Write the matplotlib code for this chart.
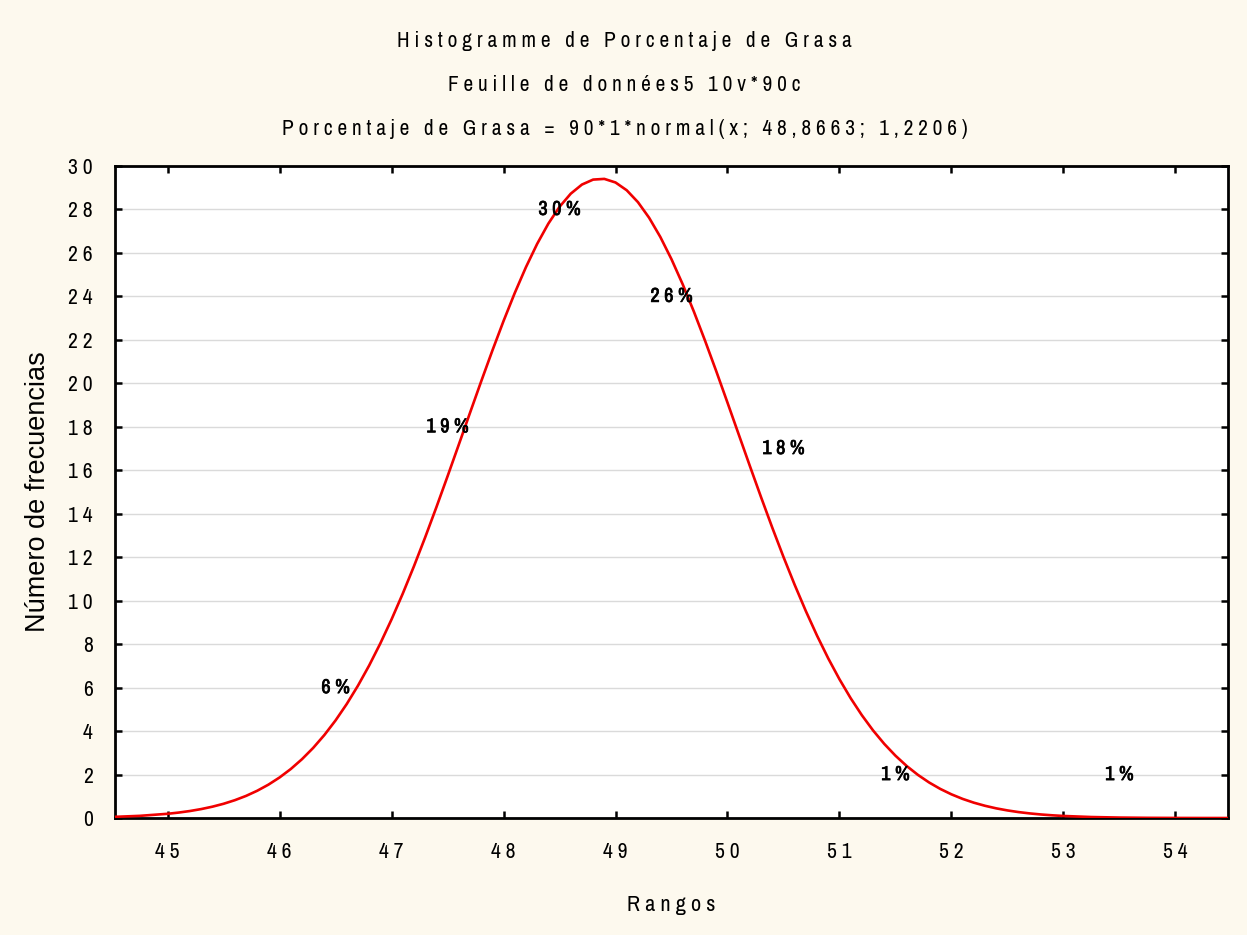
import matplotlib
matplotlib.use('Agg')
import matplotlib.pyplot as plt
import matplotlib.patheffects as pe

# histogram bins (bars are not drawn, only the % labels)
bin_centers = [46.5, 47.5, 48.5, 49.5, 50.5, 51.5, 53.5]
bin_counts = [5, 17, 27, 23, 16, 1, 1]
bin_labels = ['6 %', '1 9 %', '3 0 %', '2 6 %', '1 8 %', '1 %', '1 %']

# fitted normal curve
curve_x = [44.5, 44.75,
           45.0, 45.1, 45.2, 45.3, 45.4, 45.5, 45.6, 45.7, 45.8, 45.9,
           46.0, 46.1, 46.2, 46.3, 46.4, 46.5, 46.6, 46.7, 46.8, 46.9,
           47.0, 47.1, 47.2, 47.3, 47.4, 47.5, 47.6, 47.7, 47.8, 47.9,
           48.0, 48.1, 48.2, 48.3, 48.4, 48.5, 48.6, 48.7, 48.8, 48.9,
           49.0, 49.1, 49.2, 49.3, 49.4, 49.5, 49.6, 49.7, 49.8, 49.9,
           50.0, 50.1, 50.2, 50.3, 50.4, 50.5, 50.6, 50.7, 50.8, 50.9,
           51.0, 51.1, 51.2, 51.3, 51.4, 51.5, 51.6, 51.7, 51.8, 51.9,
           52.0, 52.1, 52.2, 52.3, 52.4, 52.5, 52.6, 52.7, 52.8, 52.9,
           53.0, 53.25, 53.5, 53.75, 54.0, 54.25, 54.5]
curve_y = [0.049, 0.100,
           0.195, 0.252, 0.323, 0.412, 0.522, 0.656, 0.820, 1.017, 1.254, 1.535,
           1.867, 2.255, 2.707, 3.226, 3.820, 4.492, 5.248, 6.090, 7.019, 8.037,
           9.140, 10.325, 11.585, 12.913, 14.296, 15.722, 17.174, 18.635, 20.085, 21.503,
           22.867, 24.154, 25.344, 26.414, 27.346, 28.121, 28.724, 29.144, 29.373, 29.405,
           29.240, 28.882, 28.337, 27.617, 26.735, 25.707, 24.554, 23.296, 21.954, 20.552,
           19.110, 17.650, 16.193, 14.757, 13.358, 12.011, 10.728, 9.517, 8.387, 7.341,
           6.384, 5.513, 4.730, 4.030, 3.411, 2.868, 2.395, 1.987, 1.637, 1.340,
           1.090, 0.880, 0.706, 0.563, 0.445, 0.350, 0.273, 0.212, 0.163, 0.125,
           0.095, 0.046, 0.021, 0.009, 0.004, 0.0015, 0.0006]

x_ticks = [45, 46, 47, 48, 49, 50, 51, 52, 53, 54]
y_ticks = list(range(0, 31, 2))

title_lines = ['Histogramme de Porcentaje de Grasa',
               'Feuille de données5 10v*90c',
               'Porcentaje de Grasa = 90*1*normal(x; 48,8663; 1,2206)']


def spaced(s):
    # wide letter spacing as in the original
    return ' '.join(s)


narrow = ['Archivo Narrow', 'Liberation Sans']

bg = '#fdf9ee'
fig = plt.figure(figsize=(12.47, 9.35), dpi=100)
fig.patch.set_facecolor(bg)
ax = fig.add_axes([0.0922, 0.1251, 0.8926, 0.6974])
ax.set_facecolor('white')

ax.plot(curve_x, curve_y, color='#f00000', lw=1.9, zorder=3)

bold = [pe.withStroke(linewidth=0.5, foreground='black')]
for xc, c, lab in zip(bin_centers, bin_counts, bin_labels):
    ax.text(xc, c + 1, lab, ha='center', va='center', fontsize=14.5,
            family=narrow, zorder=4, path_effects=bold)

ax.set_xlim(44.53, 54.47)
ax.set_ylim(0, 30)
ax.set_xticks(x_ticks)
ax.set_yticks(y_ticks)
ax.set_xticklabels([spaced(str(t)) for t in x_ticks], family=narrow, fontsize=15.5)
ax.set_yticklabels([spaced(str(t)) for t in y_ticks], family=narrow, fontsize=15.5)
ax.tick_params(direction='in', length=5, width=1.8, top=True, right=True)
ax.tick_params(axis='y', pad=16)
ax.tick_params(axis='x', pad=17)
ax.yaxis.grid(True, color='#dadada', lw=1.0)
ax.set_axisbelow(True)
for sp in ax.spines.values():
    sp.set_linewidth(2.0)

ax.set_xlabel(spaced('Rangos'), family=narrow, fontsize=16, labelpad=24)
ax.set_ylabel('Número de frecuencias', family='Liberation Sans', fontsize=19.5, labelpad=12)

for i, line in enumerate(title_lines):
    fig.text(0.501, 1 - (41 + 44 * i) / 935, spaced(line), ha='center', va='center',
             family=narrow, fontsize=15.3)

fig.savefig('out.png', dpi=100, facecolor=bg)
